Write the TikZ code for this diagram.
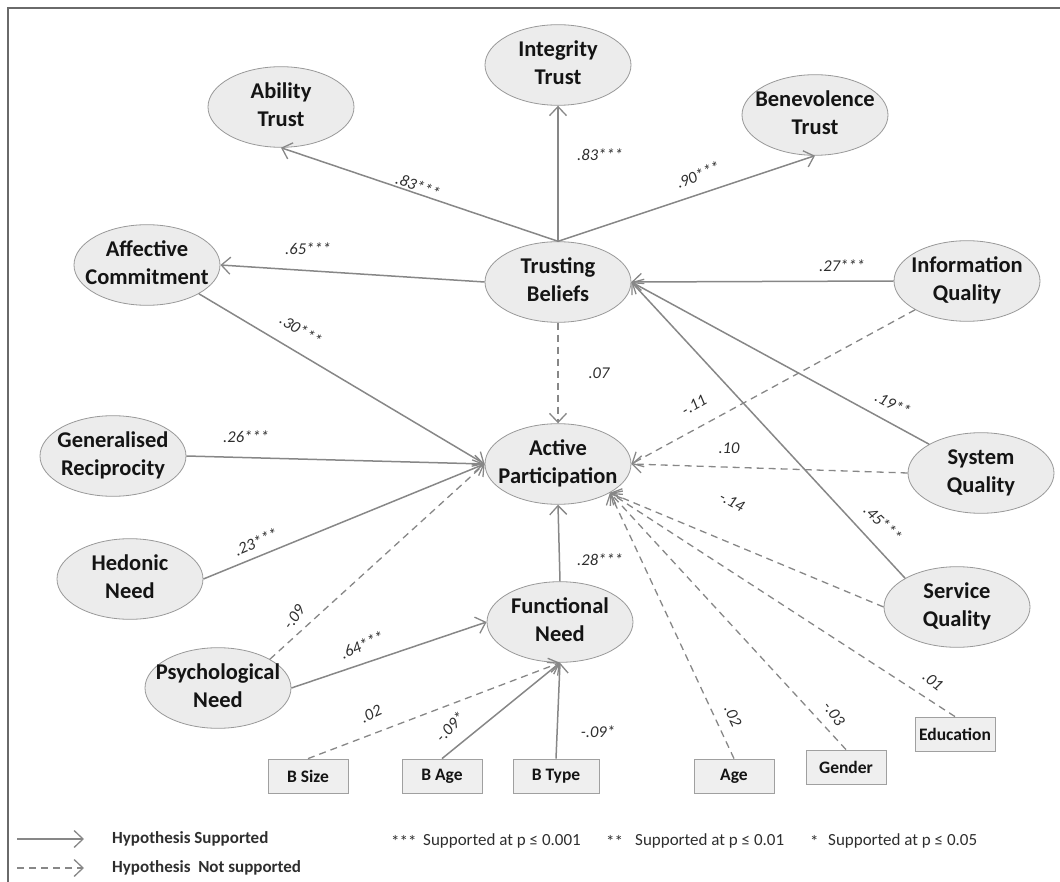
\documentclass[tikz,border=0pt]{standalone}
\usepackage{fontspec}
\setmainfont{Carlito}
\usetikzlibrary{arrows.meta,shapes.geometric}
\definecolor{edgegray}{HTML}{878787}
\definecolor{ellline}{HTML}{999999}
\definecolor{ellfill}{HTML}{ECECEC}
\definecolor{boxline}{HTML}{A0A0A0}
\definecolor{boxfill}{HTML}{EFEFEF}
\definecolor{txt}{HTML}{141414}
\definecolor{lbltxt}{HTML}{2E2E2E}
\definecolor{framegray}{HTML}{6A6A6A}
\newcommand\twol[2]{\makebox[0pt]{\begin{tabular}{@{}c@{}}#1\\#2\end{tabular}}}
\begin{document}
\begin{tikzpicture}[x=1pt,y=-1pt,
  ell/.style={ellipse, draw=ellline, fill=ellfill, line width=0.8pt,
    minimum width=146pt, minimum height=74pt, inner sep=0pt,
    font=\fontsize{22.5}{28.5}\selectfont\bfseries, text=txt},
  varbox/.style={rectangle, draw=boxline, fill=boxfill, line width=0.8pt,
    minimum width=80pt, minimum height=34pt, inner sep=0pt,
    font=\fontsize{17.5}{20}\selectfont\bfseries, text=txt},
  supp/.style={draw=edgegray, line width=1.5pt,
    -{Straight Barb[length=9pt,width=17pt,line width=1.3pt]}},
  nsupp/.style={draw=edgegray, line width=1.3pt, dash pattern=on 7pt off 5pt,
    -{Straight Barb[length=9pt,width=17pt,line width=1.3pt]}},
  lbl/.style={font=\fontsize{16.5}{16.5}\selectfont\itshape, text=lbltxt, inner sep=0pt},
  legtext/.style={font=\fontsize{17}{17}\selectfont, text=lbltxt, inner sep=0pt, anchor=west},
  legbold/.style={legtext, font=\fontsize{17}{17}\selectfont\bfseries}
]
\useasboundingbox (0,0) rectangle (1060,882);
% frame (top and left edges)
\draw[framegray, line width=1.3pt] (8,882) -- (8,8) -- (1060,8);

% constructs
\node[ell] (ab) at (281,107) {\twol{Ability}{Trust}};
\node[ell] (it) at (558,65)  {\twol{Integrity}{Trust}};
\node[ell] (bv) at (815,115) {\twol{Benevolence}{Trust}};
\node[ell] (ac) at (147,265) {\twol{Affective}{Commitment}};
\node[ell] (tb) at (558,282) {\twol{Trusting}{Beliefs}};
\node[ell] (iq) at (967,281) {\twol{Information}{Quality}};
\node[ell] (ap) at (558,464) {\twol{Active}{Participation}};
\node[ell] (gr) at (113,456) {\twol{Generalised}{Reciprocity}};
\node[ell] (hn) at (130,579) {\twol{Hedonic}{Need}};
\node[ell] (sq) at (981,473) {\twol{System}{Quality}};
\node[ell] (sv) at (957,607) {\twol{Service}{Quality}};
\node[ell] (fn) at (560,622) {\twol{Functional}{Need}};
\node[ell] (pn) at (218,688) {\twol{Psychological}{Need}};

% control variables
\node[varbox] (bs) at (308,776) {B Size};
\node[varbox] (ba) at (442,776) {B Age};
\node[varbox, minimum width=86pt] (bt) at (556,776) {B Type};
\node[varbox] (ag) at (734,776) {Age};
\node[varbox] (gd) at (846,767) {Gender};
\node[varbox] (ed) at (955,734) {Education};

% paths
\draw[supp] (tb.north) -- (ab.south);
\draw[supp] (tb.north) -- (it.south);
\draw[supp] (tb.north) -- (bv.south);
\draw[supp] (tb.west) -- (ac.east);
\draw[supp] (iq.west) -- (tb.east);
\draw[supp] (sq.north west) -- (tb.east);
\draw[supp] (sv.north west) -- (tb.east);
\draw[nsupp] (tb.south) -- (ap.north);
\draw[supp] (ac.south east) -- (ap.west);
\draw[supp] (gr.east) -- (ap.west);
\draw[supp] (hn.east) -- (ap.west);
\draw[nsupp] (pn.north east) -- (ap.west);
\draw[nsupp] (iq.south west) -- (ap.east);
\draw[nsupp] (sq.west) -- (ap.east);
\draw[nsupp] (sv.west) -- (ap.south east);
\draw[nsupp] (ag.north) -- (ap.south east);
\draw[nsupp] (gd.north) -- (ap.south east);
\draw[nsupp] (ed.north) -- (ap.south east);
\draw[supp] (fn.north) -- (ap.south);
\draw[supp] (pn.east) -- (fn.west);
\draw[nsupp] (bs.north) -- (fn.south);
\draw[supp] (ba.north) -- (fn.south);
\draw[supp] (bt.north) -- (fn.south);

% path coefficients
\node[lbl, rotate=-21] (l1)  at (418,186) {.83***};
\node[lbl]             (l2)  at (600,155) {.83***};
\node[lbl, rotate=22]  (l3)  at (698,175) {.90***};
\node[lbl]             (l4)  at (308,249) {.65***};
\node[lbl]             (l5)  at (842,266) {.27***};
\node[lbl, rotate=-32] (l6)  at (301,330) {.30***};
\node[lbl]             (l7)  at (246,437) {.26***};
\node[lbl, rotate=23]  (l8)  at (256,542) {.23***};
\node[lbl]             (l9)  at (599,373) {.07};
\node[lbl, rotate=30]  (l10) at (694,405) {-.11};
\node[lbl]             (l11) at (729,448) {.10};
\node[lbl, rotate=-27] (l12) at (893,404) {.19**};
\node[lbl, rotate=-28] (l13) at (732,502) {-.14};
\node[lbl, rotate=-44] (l14) at (883,523) {.45***};
\node[lbl]             (l15) at (600,560) {.28***};
\node[lbl, rotate=55]  (l16) at (294,617) {-.09};
\node[lbl, rotate=23]  (l17) at (362,645) {.64***};
\node[lbl, rotate=24]  (l18) at (371,714) {.02};
\node[lbl, rotate=46]  (l19) at (450,727) {-.09*};
\node[lbl]             (l20) at (598,732) {-.09*};
\node[lbl, rotate=-65] (l21) at (733,716) {.02};
\node[lbl, rotate=-55] (l22) at (834,714) {-.03};
\node[lbl, rotate=-38] (l23) at (933,681) {.01};

% legend
\coordinate (s1) at (17,839);
\coordinate (s2) at (84,839);
\coordinate (n1) at (17,868);
\coordinate (n2) at (84,868);
\draw[supp] (s1) -- (s2);
\draw[nsupp] (n1) -- (n2);
\node[legbold] (lg1) at (112,839) {Hypothesis Supported};
\node[legbold] (lg2) at (112,868) {Hypothesis\ \ Not supported};
\node[legtext] (st3) at (391,841) {***};
\node[legtext] (lg3) at (423,841) {Supported at p ≤ 0.001};
\node[legtext] (st4) at (606,841) {**};
\node[legtext] (lg4) at (635,841) {Supported at p ≤ 0.01};
\node[legtext] (st5) at (810,841) {*};
\node[legtext] (lg5) at (828,841) {Supported at p ≤ 0.05};
\end{tikzpicture}
\end{document}
